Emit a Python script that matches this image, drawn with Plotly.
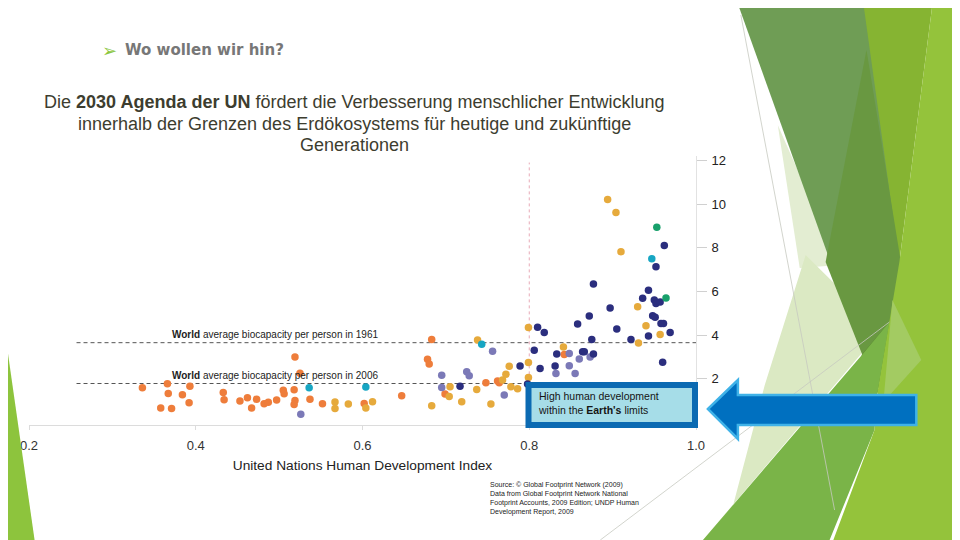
import plotly.graph_objects as go

# figure / plot-area geometry (pixels). The page body adds an 8px margin, so the
# figure is laid out 8px up/left of where things should land on screen.
W, H = 960, 540
OFF = 8
L, R, T, B = 19, 272, 148, 123
PW, PH = W - L - R, H - T - B

# --- data: HDI (x) vs ecological footprint, gha/person (y)
africa_hdi = [0.336, 0.366, 0.367, 0.358, 0.371, 0.384, 0.393, 0.392, 0.433, 0.434,
              0.453, 0.462, 0.467, 0.473, 0.482, 0.487, 0.497, 0.505, 0.506, 0.519,
              0.525, 0.518, 0.519, 0.518, 0.537, 0.552, 0.602, 0.647, 0.683, 0.678,
              0.680, 0.699, 0.748, 0.762, 0.764, 0.842]
africa_fp = [1.59, 1.77, 1.32, 0.66, 0.64, 1.26, 1.66, 0.90, 1.37, 1.04,
             0.98, 1.13, 0.66, 1.06, 0.85, 0.92, 1.02, 1.47, 1.31, 3.00,
             2.25, 1.50, 1.00, 0.82, 1.06, 0.85, 0.87, 1.22, 3.80, 2.89,
             2.67, 1.30, 1.82, 1.89, 1.82, 3.11]

asia_hdi = [0.567, 0.567, 0.583, 0.604, 0.612, 0.738, 0.683, 0.705, 0.704, 0.719,
            0.737, 0.754, 0.768, 0.772, 0.776, 0.778, 0.786, 0.799, 0.799, 0.799,
            0.841, 0.894, 0.904, 0.910, 0.930, 0.931, 0.940, 0.957]
asia_fp = [0.93, 0.64, 0.84, 0.66, 0.94, 3.77, 0.76, 1.63, 1.18, 0.95,
           1.51, 0.84, 1.94, 2.21, 2.57, 1.63, 1.54, 2.74, 2.06, 4.34,
           3.45, 10.21, 9.61, 7.82, 5.30, 3.64, 4.42, 4.03]

latam_hdi = [0.526, 0.756, 0.695, 0.725, 0.728, 0.695, 0.770, 0.832, 0.848, 0.848,
             0.855, 0.860, 0.873]
latam_fp = [0.37, 3.26, 2.16, 2.32, 2.14, 1.60, 1.25, 2.24, 3.16, 2.59,
            2.24, 2.90, 3.00]

mideast_hdi = [0.536, 0.604, 0.743, 0.947]
mideast_fp = [1.59, 1.62, 3.58, 7.49]

europe_hdi = [0.717, 0.806, 0.810, 0.818, 0.789, 0.813, 0.831, 0.833, 0.858, 0.864,
              0.866, 0.872, 0.875, 0.877, 0.877, 0.897, 0.905, 0.922, 0.936, 0.943,
              0.943, 0.948, 0.951, 0.950, 0.952, 0.957, 0.952, 0.958, 0.961, 0.960,
              0.962, 0.969, 0.798]
europe_fp = [1.66, 3.30, 4.36, 4.12, 2.58, 2.47, 2.58, 3.13, 4.51, 3.23,
             3.23, 4.87, 3.80, 3.13, 6.34, 5.24, 4.28, 3.80, 5.68, 6.05,
             3.96, 4.88, 4.81, 5.60, 5.45, 5.51, 7.13, 4.53, 4.53, 2.75,
             8.10, 4.12, 1.76]

namerica_hdi = [0.953, 0.964]
namerica_fp = [8.94, 5.70]

BIOCAP_1961 = 3.65
BIOCAP_2006 = 1.78
HIGH_HDI = 0.8

x_ticks = [0.2, 0.4, 0.6, 0.8, 1.0]
y_ticks = [2, 4, 6, 8, 10, 12]

ORANGE, GOLD, NAVY = "#ee7d3b", "#e6aa3c", "#2b2e7e"
LAV, TEAL, GREEN = "#7b79b7", "#17a6c3", "#18a06b"
INK, TXT = "#222222", "#3d3d2f"


def px(x):
    return (x - OFF - L) / PW


def py(y):
    return (H - B - (y - OFF)) / PH


def path(pts):
    return "M " + " L ".join(f"{px(x):.4f},{py(y):.4f}" for x, y in pts) + " Z"


fig = go.Figure()
for name, xs, ys, col in [("Africa", africa_hdi, africa_fp, ORANGE),
                          ("Asia-Pacific", asia_hdi, asia_fp, GOLD),
                          ("Latin America", latam_hdi, latam_fp, LAV),
                          ("Middle East / Central Asia", mideast_hdi, mideast_fp, TEAL),
                          ("Europe", europe_hdi, europe_fp, NAVY),
                          ("North America", namerica_hdi, namerica_fp, GREEN)]:
    fig.add_trace(go.Scatter(x=xs, y=ys, name=name, mode="markers",
                             marker=dict(color=col, size=7.5, line=dict(width=0))))

shapes = []
# reference lines
for v in (BIOCAP_1961, BIOCAP_2006):
    shapes.append(dict(type="line", xref="x", yref="y", x0=0.257, x1=1.0, y0=v, y1=v,
                       line=dict(color="#555555", width=1, dash="4px,3px"), layer="below"))
shapes.append(dict(type="line", xref="x", yref="y", x0=HIGH_HDI, x1=HIGH_HDI, y0=0, y1=11.9,
                   line=dict(color="#e8a9b6", width=1, dash="3px,3px"), layer="below"))

# slide decoration (green facets), screen-pixel polygons
deco = [
    ("#e3edd2", [(778, 125), (840, 265), (800, 268)]),
    ("#dbe9c3", [(806, 255), (882, 330), (703, 540), (724, 540), (765, 385)]),
    ("#86b432", [(862, -10), (935, -10), (900, 262), (878, 393)]),
    ("#6f9d55", [(733, -10), (862, -10), (900, 262), (878, 393)]),
    ("#699841", [(867, 50), (902, 265), (878, 393), (826, 262)]),
    ("#588c2d", [(862, 355), (890, 322), (878, 393)]),
    ("#7ab448", [(703, 540), (865, 352), (890, 322), (878, 393), (875, 430), (830, 540)]),
    ("#94c33b", [(935, -10), (970, -10), (970, 550), (830, 550), (875, 430), (878, 393),
                 (900, 262)]),
    ("#a3cb62", [(893, 300), (922, 360), (884, 402)]),
    ("#8dc43d", [(-10, 300), (0, 312), (34, 550), (-10, 550)]),
]
for col, pts in deco:
    shapes.append(dict(type="path", xref="paper", yref="paper", path=path(pts),
                       fillcolor=col, line=dict(width=0), layer="above"))
for (x0, y0), (x1, y1) in [((741, 15), (835, 510)), ((600, 540), (890, 322))]:
    shapes.append(dict(type="line", xref="paper", yref="paper", x0=px(x0), y0=py(y0),
                       x1=px(x1), y1=py(y1), line=dict(color="#c6c9c0", width=0.8),
                       layer="above"))

# callout box and arrow
shapes.append(dict(type="rect", xref="paper", yref="paper", x0=px(528), x1=px(695),
                   y0=py(425), y1=py(385), fillcolor="#a6dde8",
                   line=dict(color="#0b6ab2", width=6), layer="above"))
shapes.append(dict(type="path", xref="paper", yref="paper",
                   path=path([(708, 409), (738, 380), (738, 395), (917, 395),
                              (917, 425), (738, 425), (738, 439)]),
                   fillcolor="#0070c0", line=dict(color="#3fb2e8", width=2.5),
                   layer="above"))

title_lines = [
    "Die <b>2030 Agenda der UN</b> fördert die Verbesserung menschlicher Entwicklung",
    "innerhalb der Grenzen des Erdökosystems für heutige und zukünftige",
    "Generationen",
]
ann = [
    dict(x=px(98), y=py(50), text="➢", font=dict(size=18, color="#8cc63f",
                                                  family="DejaVu Sans"),
         xanchor="left"),
    dict(x=px(121), y=py(50), text="<b>Wo wollen wir hin?</b>",
         font=dict(size=15, color="#777777", family="DejaVu Sans"), xanchor="left"),
    dict(x=px(536), y=py(403),
         text="High human development<br>within the <b>Earth's</b> limits",
         font=dict(size=10.5, color="#151515", family="Liberation Sans"),
         xanchor="left", align="left"),
    dict(x=px(487), y=py(479),
         text=("Source: © Global Footprint Network (2009)<br>"
               "Data from Global Footprint Network National<br>"
               "Footprint Accounts, 2009 Edition; UNDP Human<br>"
               "Development Report, 2009"),
         font=dict(size=7, color=INK, family="Liberation Sans"),
         xanchor="left", yanchor="top", align="left"),
]
for line, yy in zip(title_lines, (102, 124, 145)):
    ann.append(dict(x=px(353), y=py(yy), text=line,
                    font=dict(size=18, color=TXT, family="Liberation Sans")))
for v, yr in ((BIOCAP_1961, "1961"), (BIOCAP_2006, "2006")):
    ann.append(dict(x=0.369, y=v, xref="x", yref="y", yshift=8,
                    text=f"<b>World</b> average biocapacity per person in {yr}",
                    font=dict(size=10, color=INK, family="Liberation Sans"),
                    xanchor="left", yanchor="middle"))
for a in ann:
    a.setdefault("xref", "paper")
    a.setdefault("yref", "paper")
    a.setdefault("yanchor", "middle")
    a["showarrow"] = False

fig.update_layout(
    width=W, height=H, autosize=False, showlegend=False,
    paper_bgcolor="white", plot_bgcolor="rgba(0,0,0,0)",
    margin=dict(l=L, r=R, t=T, b=B),
    font=dict(family="Liberation Sans", color=INK),
    shapes=shapes, annotations=ann,
)
fig.update_xaxes(range=[0.2, 1.0], tickvals=x_ticks, ticktext=[f"{v:.1f}" for v in x_ticks],
                 showgrid=False, zeroline=False, showline=True, linecolor="#dcdcdc",
                 ticks="outside", ticklen=4, tickcolor="#dcdcdc", ticklabelstandoff=4,
                 tickfont=dict(size=13, color="#333333"),
                 title=dict(text="United Nations Human Development Index", standoff=8,
                            font=dict(size=13.7, color=INK)))
fig.update_yaxes(range=[-0.12, 12.2], tickvals=y_ticks, side="right",
                 showgrid=False, zeroline=False, showline=True, linecolor="#e2e2e2",
                 ticks="outside", ticklen=10, tickcolor="#d0d0d0", ticklabelstandoff=2,
                 tickfont=dict(size=13, color=INK))

fig.write_html("out.html")
